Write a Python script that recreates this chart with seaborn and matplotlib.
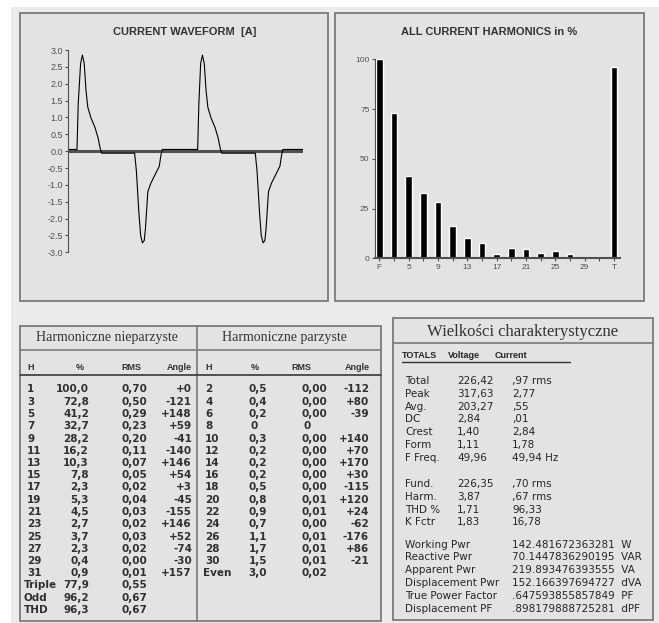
import seaborn as sns
import matplotlib.pyplot as plt
from matplotlib.patches import Rectangle
from matplotlib.lines import Line2D
import numpy as np
import pandas as pd

# current waveform, two cycles (ms, A)
wave_t = [0.0, 1.5, 1.7, 2.1, 2.4, 2.7, 3.0, 3.3, 3.8, 4.5, 5.0, 5.4, 5.6,
          11.1, 11.4, 11.8, 12.1, 12.4, 12.7, 12.9, 13.3, 13.8, 14.5, 15.2, 15.5, 15.7,
          21.6, 21.8, 22.1, 22.4, 22.7, 23.0, 23.3, 23.8, 24.5, 25.0, 25.4, 25.6,
          31.2, 31.5, 31.9, 32.2, 32.5, 32.8, 33.0, 33.4, 33.9, 34.6, 35.3, 35.6, 35.8, 39.2]
wave_i = [0.05, 0.05, 1.4, 2.6, 2.85, 2.6, 1.8, 1.3, 1.0, 0.7, 0.4, 0.05, -0.06,
          -0.06, -0.6, -1.8, -2.5, -2.72, -2.65, -2.3, -1.2, -0.95, -0.7, -0.45, -0.1, 0.05,
          0.05, 1.4, 2.6, 2.85, 2.6, 1.8, 1.3, 1.0, 0.7, 0.4, 0.05, -0.06,
          -0.06, -0.6, -1.8, -2.5, -2.72, -2.65, -2.3, -1.2, -0.95, -0.7, -0.45, -0.1, 0.05, 0.05]

# odd harmonics table
odd_harm = [1, 3, 5, 7, 9, 11, 13, 15, 17, 19, 21, 23, 25, 27, 29, 31]
odd_pct = [100.0, 72.8, 41.2, 32.7, 28.2, 16.2, 10.3, 7.8, 2.3, 5.3, 4.5, 2.7, 3.7, 2.3, 0.4, 0.9]
odd_rms = [0.70, 0.50, 0.29, 0.23, 0.20, 0.11, 0.07, 0.05, 0.02, 0.04, 0.03, 0.02, 0.03, 0.02, 0.00, 0.01]
odd_angle = ['+0', '-121', '+148', '+59', '-41', '-140', '+146', '+54', '+3', '-45',
             '-155', '+146', '+52', '-74', '-30', '+157']
odd_sum_names = ['Triple', 'Odd', 'THD']
odd_sum_pct = [77.9, 96.2, 96.3]
odd_sum_rms = [0.55, 0.67, 0.67]

# even harmonics table
even_harm = [2, 4, 6, 8, 10, 12, 14, 16, 18, 20, 22, 24, 26, 28, 30]
even_pct = ['0,5', '0,4', '0,2', '0', '0,3', '0,2', '0,2', '0,2', '0,5', '0,8', '0,9', '0,7', '1,1', '1,7', '1,5']
even_rms = ['0,00', '0,00', '0,00', '0', '0,00', '0,00', '0,00', '0,00', '0,00', '0,01', '0,01', '0,00', '0,01', '0,01', '0,01']
even_angle = ['-112', '+80', '-39', '', '+140', '+70', '+170', '+30', '-115', '+120', '+24', '-62', '-176', '+86', '-21']
even_sum = ['Even', '3,0', '0,02']

# bar chart of harmonics (F = fundamental, T = total)
harm_labels = ['F'] + [str(h) for h in odd_harm[1:]] + ['T']
harm_values = odd_pct + [odd_sum_pct[2]]

# characteristic values
tot_names = ['Total', 'Peak', 'Avg.', 'DC', 'Crest', 'Form', 'F Freq.']
tot_volt = ['226,42', '317,63', '203,27', '2,84', '1,40', '1,11', '49,96']
tot_curr = [',97 rms', '2,77', ',55', ',01', '2,84', '1,78', '49,94 Hz']
fund_names = ['Fund.', 'Harm.', 'THD %', 'K Fctr']
fund_volt = ['226,35', '3,87', '1,71', '1,83']
fund_curr = [',70 rms', ',67 rms', '96,33', '16,78']
pwr_names = ['Working Pwr', 'Reactive Pwr', 'Apparent Pwr', 'Displacement Pwr',
             'True Power Factor', 'Displacement PF']
pwr_values = ['142.481672363281  W', '70.1447836290195  VAR', '219.893476393555  VA',
              '152.166397694727  dVA', '.647593855857849  PF', '.898179888725281  dPF']

sns.set_style('ticks')
plt.rcParams['font.family'] = ['Liberation Sans', 'DejaVu Sans']
plt.rcParams['axes.unicode_minus'] = False

W, H = 659, 623
fig = plt.figure(figsize=(W / 100, H / 100), dpi=100)
fig.patch.set_facecolor('white')


def box(x0, y0, x1, y1, fc='#e3e3e3', ec='#7a7a7a', lw=1.3):
    fig.add_artist(Rectangle((x0 / W, 1 - y1 / H), (x1 - x0) / W, (y1 - y0) / H,
                             transform=fig.transFigure, fc=fc, ec=ec, lw=lw, zorder=0))


def hline(y, x0, x1, color='#555555', lw=1.0):
    fig.add_artist(Line2D([x0 / W, x1 / W], [1 - y / H, 1 - y / H], color=color, lw=lw))


def vline(x, y0, y1, color='#555555', lw=1.0):
    fig.add_artist(Line2D([x / W, x / W], [1 - y0 / H, 1 - y1 / H], color=color, lw=lw))


def txt(x, y, s, ha='left', size=8, **kw):
    fig.text(x / W, 1 - y / H, s, ha=ha, va='center', fontsize=size, **kw)


box(11, 7, 659, 623, fc='#ebebeb', ec='none', lw=0)
box(20, 13, 328, 301)
box(335, 13, 644, 301)
box(20, 326, 381, 621)
box(393, 318, 653, 620)

# --- waveform ---
ax1 = fig.add_axes([68 / W, 1 - 252.3 / H, (303.3 - 68) / W, (252.3 - 50) / H])
ax1.set_facecolor('none')
sns.lineplot(x=wave_t, y=wave_i, ax=ax1, color='black', lw=0.8)
ax1.axhline(0, color='#505050', lw=2.2, zorder=1)
ax1.set_xlim(0, 39.2)
ax1.set_ylim(-3, 3)
ax1.set_yticks(np.arange(-3, 3.01, 0.5))
ax1.set_yticklabels(['%.1f' % v for v in np.arange(-3, 3.01, 0.5)])
ax1.set_xticks([])
for s in ['top', 'right', 'bottom']:
    ax1.spines[s].set_visible(False)
ax1.spines['left'].set_color('#505050')
ax1.tick_params(axis='y', length=2.5, width=0.8, colors='#505050', labelsize=6.5, pad=1)
fig.text(185 / W, 1 - 32 / H, 'CURRENT WAVEFORM  [A]', ha='center', va='center',
         fontsize=8, fontweight='bold', color='#333333')

# --- harmonics bars ---
ax2 = fig.add_axes([375 / W, 1 - 258.3 / H, (620 - 375) / W, (258.3 - 59.3) / H])
ax2.set_facecolor('none')
df = pd.DataFrame({'h': harm_labels, 'pct': harm_values})
sns.barplot(data=df, x='h', y='pct', order=harm_labels, color='black', saturation=1,
            width=0.45, ax=ax2)
ax2.set_xlim(-0.29, 16.41)
ax2.set_ylim(0, 100)
ax2.set_yticks([0, 25, 50, 75, 100])
ax2.set_xticks(range(len(harm_labels)))
ax2.set_xticklabels([l if i % 2 == 0 else '' for i, l in enumerate(harm_labels)])
ax2.set_xlabel('')
ax2.set_ylabel('')
for s in ['top', 'right']:
    ax2.spines[s].set_visible(False)
for s in ['left', 'bottom']:
    ax2.spines[s].set_color('#505050')
ax2.spines['bottom'].set_linewidth(1.5)
ax2.tick_params(length=2.5, width=0.8, colors='#505050', labelsize=6, pad=1.5)
fig.text(489 / W, 1 - 32 / H, 'ALL CURRENT HARMONICS in %', ha='center', va='center',
         fontsize=8, fontweight='bold', color='#333333')

# --- harmonics tables ---
serif = 'Liberation Serif'
txt(107, 338, 'Harmoniczne nieparzyste', ha='center', size=10, family=serif, color='#333333')
txt(284, 338, 'Harmoniczne parzyste', ha='center', size=10, family=serif, color='#333333')
hline(350, 20, 381, color='#7a7a7a', lw=1.2)
vline(197, 326, 621, color='#7a7a7a', lw=1.2)
hline(375, 20, 381, color='#444444', lw=1.3)
hs = dict(size=6.5, fontweight='bold', color='#333333')
txt(27, 368, 'H', **hs)
txt(84, 368, '%', ha='right', **hs)
txt(141, 368, 'RMS', ha='right', **hs)
txt(192, 368, 'Angle', ha='right', **hs)
txt(205, 368, 'H', **hs)
txt(259, 368, '%', ha='right', **hs)
txt(311, 368, 'RMS', ha='right', **hs)
txt(370, 368, 'Angle', ha='right', **hs)

ts = dict(size=7.5, fontweight='bold', color='#303030', family='DejaVu Sans')
y0, dy = 389.5, 12.25
for k in range(len(odd_harm)):
    y = y0 + k * dy
    txt(27, y, str(odd_harm[k]), **ts)
    txt(89, y, ('%.1f' % odd_pct[k]).replace('.', ','), ha='right', **ts)
    txt(147, y, ('%.2f' % odd_rms[k]).replace('.', ','), ha='right', **ts)
    txt(192, y, odd_angle[k], ha='right', **ts)
for k in range(len(odd_sum_names)):
    y = y0 + (len(odd_harm) + k) * dy
    txt(24, y, odd_sum_names[k], **ts)
    txt(89, y, ('%.1f' % odd_sum_pct[k]).replace('.', ','), ha='right', **ts)
    txt(147, y, ('%.2f' % odd_sum_rms[k]).replace('.', ','), ha='right', **ts)
for k in range(len(even_harm)):
    y = y0 + k * dy
    txt(205, y, str(even_harm[k]), **ts)
    if ',' in even_pct[k]:
        txt(267, y, even_pct[k], ha='right', **ts)
        txt(327, y, even_rms[k], ha='right', **ts)
    else:
        txt(250, y, even_pct[k], **ts)
        txt(304, y, even_rms[k], **ts)
    txt(369, y, even_angle[k], ha='right', **ts)
y = y0 + len(even_harm) * dy
txt(203, y, even_sum[0], **ts)
txt(267, y, even_sum[1], ha='right', **ts)
txt(327, y, even_sum[2], ha='right', **ts)

# --- characteristic values ---
txt(523, 332, 'Wielkości charakterystyczne', ha='center', size=12, family=serif, color='#333333')
hline(343, 393, 653, color='#7a7a7a', lw=1.2)
rs = dict(size=7.5, color='#262626', family='DejaVu Sans')
th = dict(size=6.5, color='#262626', fontweight='bold')
txt(402, 356, 'TOTALS', **th)
txt(448, 356, 'Voltage', **th)
txt(495, 356, 'Current', **th)
hline(362, 402, 570, color='#333333', lw=1.0)
ry, rdy = 381, 12.8
for k in range(len(tot_names)):
    y = ry + k * rdy
    txt(405, y, tot_names[k], **rs)
    txt(457, y, tot_volt[k], **rs)
    txt(512, y, tot_curr[k], **rs)
for k in range(len(fund_names)):
    y = 484 + k * rdy
    txt(405, y, fund_names[k], **rs)
    txt(457, y, fund_volt[k], **rs)
    txt(512, y, fund_curr[k], **rs)
for k in range(len(pwr_names)):
    y = 544.5 + k * rdy
    txt(405, y, pwr_names[k], **rs)
    txt(512, y, pwr_values[k], **rs)

fig.savefig('out.png', dpi=100)
